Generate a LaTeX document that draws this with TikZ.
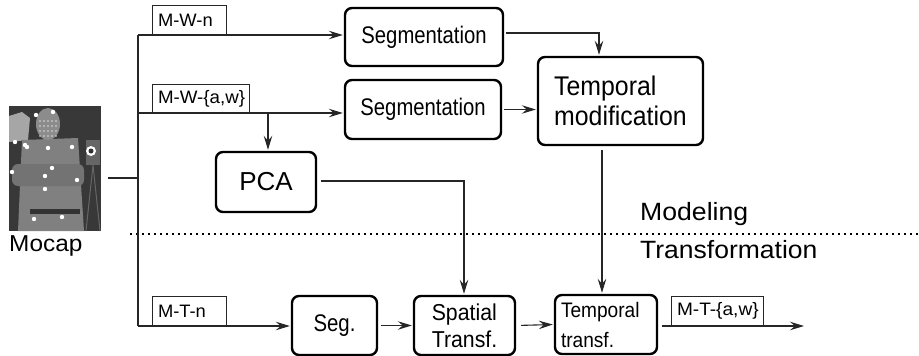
\documentclass[tikz,border=0pt]{standalone}
\usepackage{fontspec}
\usepackage{graphicx}
\setmainfont{Liberation Sans}
\usetikzlibrary{arrows.meta}
\newcommand{\hs}[2]{\scalebox{#1}[1]{#2}}
\newcommand{\fs}[2]{\fontsize{#1}{#2}\selectfont}
\tikzset{
  box/.style={draw, rounded corners=7pt, line width=2.4pt, inner sep=0pt},
  conn/.style={line width=1.1pt, draw=black!85},
  arr/.style={conn, -{Stealth[length=14pt,width=8.5pt,inset=5pt]}, shorten >=1pt},
  labtag/.style={inner xsep=5pt, inner ysep=0pt, align=left, font=\fs{18}{20}},
  frame/.style={line width=0.9pt, draw=black!85},
  dots/.style={line width=1.8pt, dash pattern=on 1.8pt off 4.2pt},
  plain/.style={inner sep=0pt}
}
\begin{document}
\begin{tikzpicture}[x=1pt,y=-1pt]
\useasboundingbox (0,0) rectangle (919,356);
% ---------- photo ----------
\node (photo) [plain, fill=black!78, minimum width=92pt, minimum height=125pt] at (55,168.5) {};
\fill[black!35] (9,116) -- (22,112) -- (30,118) -- (28,140) -- (9,142) -- cycle;
\fill[black!50] (22,140) -- (78,138) -- (84,231) -- (18,231) -- cycle;
\fill[black!45] (48,124) ellipse [x radius=12, y radius=16];
\fill[black!55, rounded corners=6pt] (12,164) rectangle (84,186);
\fill[black!80] (30,209) rectangle (80,214);
\fill[black!60] (86,140) rectangle (100,165);
\draw[black!60, line width=1pt] (93,165) -- (86,231) (93,165) -- (100,231);
\fill[white] (91,151) circle [radius=5];
\fill[black!80] (91,151) circle [radius=2.5];
\foreach \p in {(36,115),(53,112),(15,142),(25,145),(27,147),(48,148),(72,147),(12,172),(52,168),(45,176),(77,180),(45,189),(34,219),(62,217)}
  \fill[white] \p circle [radius=2.2];
\foreach \x in {40,44,48,52,56}
  \foreach \y in {121,126,131,136}
    \fill[white!85!black] (\x,\y) circle [radius=0.9];
\node (mocap) [plain, anchor=base west, font=\fs{23}{27}] at (9,251) {\hs{1.06}{Mocap}};
% ---------- boxes ----------
\node (seg1) [box, minimum width=158pt, minimum height=58pt, font=\fs{24}{28}] at (424,37) {\hs{0.845}{Segmentation}};
\node (seg2) [box, minimum width=156pt, minimum height=59pt, font=\fs{24}{28}] at (423,109.5) {\hs{0.845}{Segmentation}};
\node (tm) [box, minimum width=165pt, minimum height=88pt, align=left, font=\fs{27}{30}] at (620.5,101) {\hs{0.92}{Temporal}\\\hs{0.92}{modification}};
\node (pca) [box, minimum width=100pt, minimum height=60pt, font=\fs{26}{30}] at (266,182) {PCA};
\node (seg3) [box, minimum width=85pt, minimum height=59pt, font=\fs{24}{28}] at (334.5,325.5) {\hs{0.85}{Seg.}};
\node (st) [box, minimum width=101pt, minimum height=59pt, align=left, font=\fs{23}{27}] at (464.5,325.5) {\hs{0.925}{Spatial}\\\hs{0.925}{Transf.}};
\node (tt) [box, minimum height=59pt, text width=90pt, inner xsep=6pt, align=left, font=\fs{21}{30}] at (606,324.5) {\hs{0.91}{Temporal}\\\hs{0.91}{transf.}};
% ---------- label tags ----------
\node (lw1) [labtag, minimum height=29pt, text width=63pt] at (189.5,20.5) {\hs{1.02}{M-W-n}};
\node (lw2) [labtag, minimum height=28pt, text width=86pt] at (201,99) {\hs{1.04}{M-W-\{a,w\}}};
\node (lt1) [labtag, minimum height=29pt, text width=63pt] at (189.5,311.5) {\hs{1.02}{M-T-n}};
\node (lt2) [labtag, minimum height=29pt, text width=81pt] at (717.5,311) {\hs{1.06}{M-T-\{a,w\}}};
\foreach \n in {lw1,lw2,lt1,lt2}
  \draw[frame] (\n.south west) |- (\n.north east) -- (\n.south east);
% ---------- section labels ----------
\coordinate (d1) at (130,234);
\coordinate (d2) at (919,234);
\draw[dots] (d1) -- (d2);
\node (modeling) [plain, anchor=base west, font=\fs{25}{28}] at (640,220) {\hs{1.065}{Modeling}};
\node (transf) [plain, anchor=base west, font=\fs{25}{28}] at (640,258) {\hs{1.06}{Transformation}};
% ---------- connectors ----------
\coordinate (jn) at (138,178);
\coordinate (jt) at (138,35);
\coordinate (jb) at (138,326);
\coordinate (b2) at (138,113);
\coordinate (pcab) at (268,113);
\coordinate (k1) at (599,33);
\coordinate (k2) at (602,150);
\coordinate (k3) at (464,181);
\coordinate (out) at (805,326);
\draw[conn, line width=1.8pt, shorten <=7pt] (photo.east |- jn) -- (jn);
\draw[conn, line width=1.4pt] (jt) -- (jb);
\draw[arr] (jt) -- (jt -| seg1.west);
\draw[arr] (b2) -- (b2 -| seg2.west);
\draw[arr] (pcab) -- (pcab |- pca.north);
\draw[arr, shorten <=2pt] (seg1.east |- k1) -- (k1) -- (k1 |- tm.north);
\draw[arr, shorten <=2pt] (seg2.east) -- (seg2.east -| tm.west);
\draw[arr] (k2) -- (k2 |- tt.north);
\draw[arr, shorten <=4pt] (pca.east |- k3) -- (k3) -- (k3 |- st.north);
\draw[arr] (jb) -- (jb -| seg3.west);
\draw[arr, shorten <=3pt] (seg3.east) -- (st.west);
\draw[arr, shorten <=5pt] (st.east) -- (tt.west);
\draw[arr, shorten <=4pt] (tt.east |- out) -- (out);
\end{tikzpicture}
\end{document}
